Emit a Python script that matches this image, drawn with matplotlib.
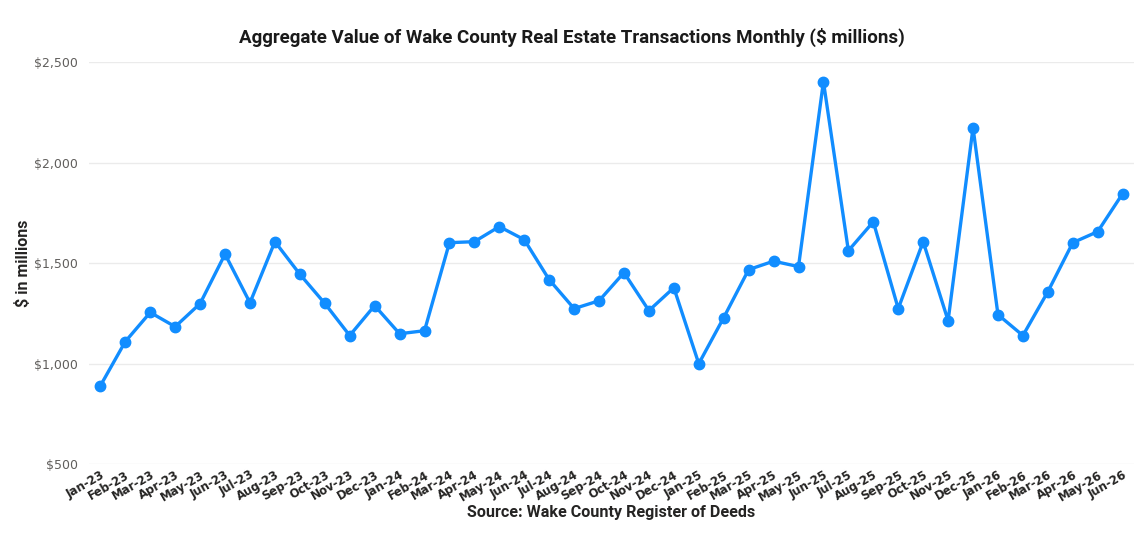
import matplotlib
matplotlib.use("Agg")
import matplotlib.pyplot as plt
from matplotlib.ticker import FuncFormatter

months = ["Jan-23", "Feb-23", "Mar-23", "Apr-23", "May-23", "Jun-23", "Jul-23", "Aug-23",
          "Sep-23", "Oct-23", "Nov-23", "Dec-23", "Jan-24", "Feb-24", "Mar-24", "Apr-24",
          "May-24", "Jun-24", "Jul-24", "Aug-24", "Sep-24", "Oct-24", "Nov-24", "Dec-24",
          "Jan-25", "Feb-25", "Mar-25", "Apr-25", "May-25", "Jun-25", "Jul-25", "Aug-25",
          "Sep-25", "Oct-25", "Nov-25", "Dec-25", "Jan-26", "Feb-26", "Mar-26", "Apr-26",
          "May-26", "Jun-26"]
values = [890, 1110, 1255, 1184, 1299, 1545, 1303, 1607,
          1445, 1300, 1140, 1289, 1149, 1164, 1602, 1607,
          1682, 1617, 1418, 1274, 1313, 1453, 1264, 1378,
          1000, 1229, 1468, 1510, 1483, 2403, 1562, 1706,
          1274, 1607, 1214, 2174, 1244, 1140, 1358, 1602,
          1657, 1846]
y_ticks = [500, 1000, 1500, 2000, 2500]

fig = plt.figure(figsize=(11.43, 5.36), dpi=100)
ax = fig.add_axes([0.078, 0.134, 0.914, 0.75])

x = list(range(len(months)))
ax.plot(x, values, color="#118DFF", linewidth=2.4, marker="o", markersize=7.5,
        solid_joinstyle="round", zorder=3)

ax.set_ylim(500, 2500)
ax.set_xlim(-0.45, len(months) - 0.55)
ax.set_yticks(y_ticks)
ax.yaxis.set_major_formatter(FuncFormatter(lambda v, p: f"${v:,.0f}"))
ax.grid(axis="y", color="#EBEBEB", linewidth=1)
ax.set_axisbelow(True)
for s in ax.spines.values():
    s.set_visible(False)
ax.tick_params(length=0)
ax.tick_params(axis="y", labelsize=9, labelcolor="#605E5C", pad=8)

ax.set_xticks(x)
ax.set_xticklabels(months, rotation=30, ha="right", rotation_mode="anchor",
                   fontsize=8.5, fontweight="bold", color="#252423")
ax.tick_params(axis="x", pad=3)

# title is centred on the whole figure, not the plot area
fig.text(0.5, 0.931, "Aggregate Value of Wake County Real Estate Transactions Monthly ($ millions)",
         ha="center", va="center", fontsize=13.5, fontweight="bold", color="#1A1A1A",
         family="Roboto")
ax.set_ylabel("$ in millions", fontsize=11.5, fontweight="bold", color="#252423",
              family="Roboto")
ax.yaxis.set_label_coords(-0.056, 0.5)
ax.set_xlabel("Source: Wake County Register of Deeds", fontsize=11.6, fontweight="bold",
              color="#252423", labelpad=1, family="Roboto")

fig.savefig("out.png", dpi=100, facecolor="white")
